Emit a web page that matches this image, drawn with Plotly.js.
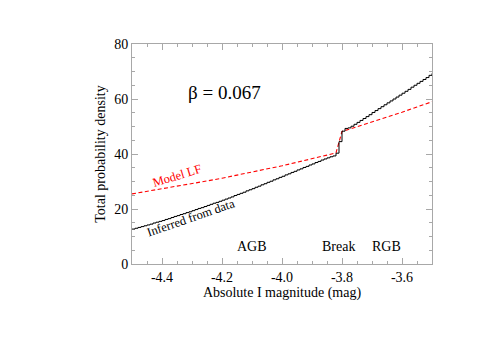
<!DOCTYPE html>
<html>
<head>
<meta charset="utf-8">
<script src="https://cdn.plot.ly/plotly-3.0.1.min.js"></script>
<style>html,body{margin:0;padding:0;background:#fff;}#chart{width:485px;height:342px;}</style>
</head>
<body>
<div id="chart"></div>
<script>
// Inferred-from-data histogram: bin left edges (mag) and densities
var inferredMag = [
 -4.50,-4.49,-4.48,-4.47,-4.46,-4.45,-4.44,-4.43,-4.42,-4.41,
 -4.40,-4.39,-4.38,-4.37,-4.36,-4.35,-4.34,-4.33,-4.32,-4.31,
 -4.30,-4.29,-4.28,-4.27,-4.26,-4.25,-4.24,-4.23,-4.22,-4.21,
 -4.20,-4.19,-4.18,-4.17,-4.16,-4.15,-4.14,-4.13,-4.12,-4.11,
 -4.10,-4.09,-4.08,-4.07,-4.06,-4.05,-4.04,-4.03,-4.02,-4.01,
 -4.00,-3.99,-3.98,-3.97,-3.96,-3.95,-3.94,-3.93,-3.92,-3.91,
 -3.90,-3.89,-3.88,-3.87,-3.86,-3.85,-3.84,-3.83,-3.82,-3.81,
 -3.80,-3.79,-3.78,-3.77,-3.76,-3.75,-3.74,-3.73,-3.72,-3.71,
 -3.70,-3.69,-3.68,-3.67,-3.66,-3.65,-3.64,-3.63,-3.62,-3.61,
 -3.60,-3.59,-3.58,-3.57,-3.56,-3.55,-3.54,-3.53,-3.52,-3.51,
 -3.50];
var inferredDensity = [
 12.7,13.0,13.3,13.6,13.9,14.2,14.5,14.9,15.2,15.5,
 15.8,16.2,16.5,16.9,17.3,17.6,18.0,18.3,18.7,19.0,
 19.4,19.8,20.2,20.5,20.9,21.3,21.7,22.1,22.4,22.8,
 23.2,23.6,24.0,24.4,24.9,25.3,25.7,26.1,26.6,27.0,
 27.4,27.9,28.3,28.8,29.2,29.7,30.1,30.6,31.0,31.5,
 31.9,32.4,32.8,33.3,33.7,34.2,34.6,35.1,35.5,36.0,
 36.4,36.9,37.3,37.8,38.2,38.6,39.0,39.3,40.3,44.5,
 48.3,49.3,49.5,50.1,50.8,51.5,52.2,52.9,53.6,54.3,
 55.1,55.8,56.5,57.2,57.9,58.6,59.3,60.0,60.7,61.4,
 62.1,62.8,63.5,64.3,65.0,65.7,66.4,67.1,67.8,68.6,
 69.3];

// Model luminosity function (red dashed)
var modelMag = [-4.50,-4.45,-4.40,-4.35,-4.30,-4.25,-4.20,-4.15,-4.10,-4.05,-4.00,-3.95,-3.90,-3.85,-3.82,-3.81,-3.80,-3.75,-3.70,-3.65,-3.60,-3.55,-3.50];
var modelDensity = [25.5,26.4,27.3,28.2,29.2,30.2,31.2,32.3,33.4,34.6,35.7,37.0,38.2,39.6,40.4,44.3,48.2,49.9,51.6,53.3,55.2,57.1,59.0];

// Axis ticks
var xTickVals = [-4.4,-4.2,-4.0,-3.8,-3.6];
var xTickText = ['-4.4','-4.2','-4.0','-3.8','-3.6'];
var yTickVals = [0,20,40,60,80];
var yTickText = ['0','20','40','60','80'];

var serif = 'Liberation Serif, Times New Roman, serif';
var frameColor = '#a8a8a8';

var traces = [
  {x: modelMag, y: modelDensity, mode: 'lines', type: 'scatter',
   line: {color: '#ff0000', width: 1.1, dash: '4px,2.5px'}, hoverinfo: 'skip'},
  {x: inferredMag, y: inferredDensity, mode: 'lines', type: 'scatter',
   line: {color: '#000000', width: 1, shape: 'hv'}, hoverinfo: 'skip'}
];

var axisCommon = {
  showgrid: false, zeroline: false, showline: true, linecolor: frameColor, linewidth: 1,
  mirror: 'allticks', ticks: 'inside', ticklen: 6, tickcolor: frameColor, tickwidth: 1,
  tickfont: {family: serif, size: 14, color: '#000'}
};

var layout = {
  width: 485, height: 342,
  margin: {l: 132, r: 53, t: 44, b: 78},
  paper_bgcolor: '#fff', plot_bgcolor: '#fff',
  showlegend: false,
  font: {family: serif, color: '#000'},
  xaxis: Object.assign({}, axisCommon, {
    range: [-4.5, -3.5], tickmode: 'array', tickvals: xTickVals, ticktext: xTickText,
    minor: {dtick: 0.05, tick0: -4.5, ticks: 'inside', ticklen: 3, tickcolor: frameColor, showgrid: false},
    title: {text: 'Absolute I magnitude (mag)', font: {family: serif, size: 14, color: '#000'}, standoff: 2}
  }),
  yaxis: Object.assign({}, axisCommon, {
    range: [0, 80], tickmode: 'array', tickvals: yTickVals, ticktext: yTickText,
    minor: {dtick: 5, tick0: 0, ticks: 'inside', ticklen: 3, tickcolor: frameColor, showgrid: false},
    title: {text: 'Total probability density', font: {family: serif, size: 14, color: '#000'}, standoff: 5}
  }),
  annotations: [
    {x: -4.193, y: 62.2, xref: 'x', yref: 'y', text: '\u03b2 = 0.067', showarrow: false,
     font: {family: serif, size: 19, color: '#000'}},
    {x: -4.351, y: 31.9, xref: 'x', yref: 'y', text: 'Model LF', showarrow: false, textangle: -17,
     font: {family: serif, size: 12.5, color: '#ff0000'}},
    {x: -4.304, y: 16.7, xref: 'x', yref: 'y', text: 'Inferred from data', showarrow: false, textangle: -19,
     font: {family: serif, size: 12.5, color: '#000'}},
    {x: -4.101, y: 6.4, xref: 'x', yref: 'y', text: 'AGB', showarrow: false,
     font: {family: serif, size: 14, color: '#000'}},
    {x: -3.812, y: 6.4, xref: 'x', yref: 'y', text: 'Break', showarrow: false,
     font: {family: serif, size: 14, color: '#000'}},
    {x: -3.651, y: 6.4, xref: 'x', yref: 'y', text: 'RGB', showarrow: false,
     font: {family: serif, size: 14, color: '#000'}}
  ]
};

Plotly.newPlot('chart', traces, layout, {staticPlot: true, displayModeBar: false});
</script>
</body>
</html>
